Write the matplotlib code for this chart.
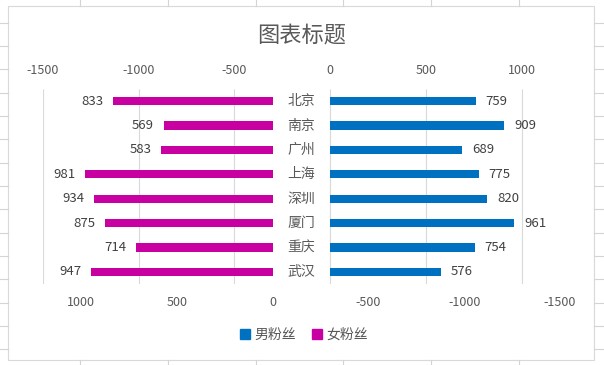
import matplotlib.pyplot as plt
import matplotlib.transforms as mtransforms
from matplotlib.patches import Patch, Rectangle
from matplotlib.lines import Line2D

plt.rcParams['font.family'] = ['Noto Sans CJK SC', 'DejaVu Sans']

cities = ['北京', '南京', '广州', '上海', '深圳', '厦门', '重庆', '武汉']
male = [759, 909, 689, 775, 820, 961, 754, 576]
female = [833, 569, 583, 981, 934, 875, 714, 947]
top_ticks = [-1500, -1000, -500, 0, 500, 1000]
bottom_ticks = [1000, 500, 0, -500, -1000, -1500]

blue = '#0070C0'
pink = '#C800A1'
grey = '#595959'

W, H = 604, 365
fig = plt.figure(figsize=(W / 100, H / 100), dpi=100)

# 工作表网格线 + 图表边框
cell_cols = [80, 168, 256, 343, 431, 519]
cell_rows = [23, 46, 69, 93, 116, 139, 163, 186, 209, 233, 256, 279, 303, 326, 349]
for cx in cell_cols:
    for y0, y1 in [(0, 6), (360, 365)]:
        fig.add_artist(Line2D([cx / W, cx / W], [1 - y0 / H, 1 - y1 / H], color='#d4d4d4', lw=0.8))
for ry in cell_rows:
    for x0, x1 in [(0, 8), (594, 604)]:
        fig.add_artist(Line2D([x0 / W, x1 / W], [1 - ry / H, 1 - ry / H], color='#d4d4d4', lw=0.8))
fig.add_artist(Rectangle((8 / W, 1 - 360 / H), 586 / W, 354 / H, fill=False,
                         edgecolor='#d9d9d9', lw=0.8))

ax = fig.add_axes([43 / W, 1 - 284 / H, 517 / W, 195 / H])
ax2 = ax.twiny()

y = list(range(len(cities)))

# 女粉丝: 下方坐标轴(反向)
ax.barh(y, female, height=0.34, color=pink, zorder=2)
ax.set_xlim(1200, -1500)
ax.set_xticks(bottom_ticks)
ax.set_xticklabels([str(t) for t in bottom_ticks])

# 男粉丝: 上方坐标轴
ax2.barh(y, male, height=0.34, color=blue, zorder=2)
ax2.set_xlim(-1500, 1200)
ax2.set_xticks(top_ticks)
ax2.set_xticklabels([str(t) for t in top_ticks])

ax.set_ylim(len(cities) - 0.5, -0.5)
ax.set_yticks([])

# 网格线画在下层坐标轴上，避免盖住柱子
trans = mtransforms.blended_transform_factory(ax2.transData, ax.transAxes)
ax.vlines(top_ticks, 0, 1, transform=trans, color='#d9d9d9', lw=0.8, zorder=0)

for a in (ax, ax2):
    for s in a.spines.values():
        s.set_visible(False)
    a.tick_params(axis='x', length=0, labelsize=9, labelcolor=grey, pad=9)

# 数据标签
for i, v in enumerate(female):
    ax.annotate(str(v), xy=(v, i), xytext=(-7, 0), textcoords='offset points',
                ha='right', va='center', fontsize=9.5, color='#404040')
for i, v in enumerate(male):
    ax2.annotate(str(v), xy=(v, i), xytext=(7, 0), textcoords='offset points',
                 ha='left', va='center', fontsize=9.5, color='#404040')

# 城市名居中
ytrans = ax.get_yaxis_transform()
for i, c in enumerate(cities):
    ax.text(0.5, i, c, transform=ytrans, ha='center', va='center', fontsize=10, color=grey)

fig.text(0.5, 1 - 35 / H, '图表标题', ha='center', va='center', fontsize=16, color=grey)

handles = [Patch(color=blue, label='男粉丝'), Patch(color=pink, label='女粉丝')]
leg = fig.legend(handles=handles, loc='center', bbox_to_anchor=(304 / W, 1 - 335 / H), ncol=2,
                 frameon=False, fontsize=10, handlelength=0.7, handleheight=0.7,
                 handletextpad=0.3, columnspacing=1.2)
for t in leg.get_texts():
    t.set_color(grey)

plt.savefig('out.png', dpi=100)
